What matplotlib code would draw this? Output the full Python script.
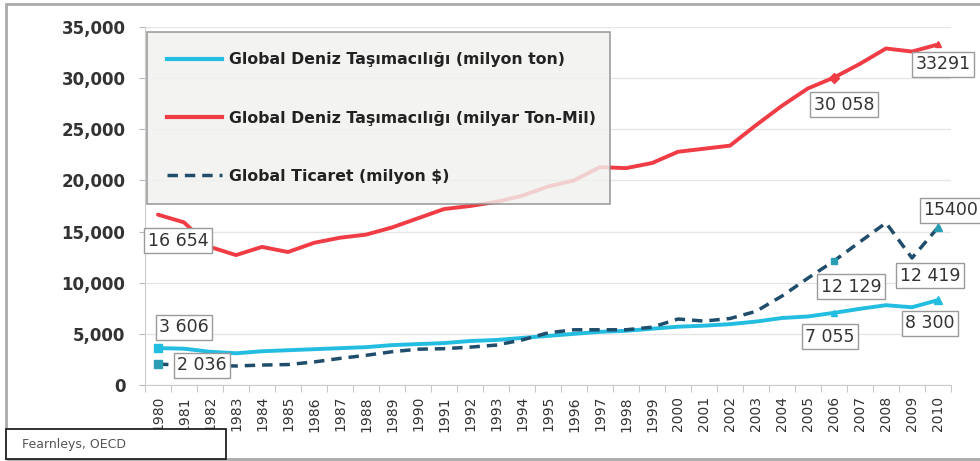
import matplotlib.pyplot as plt
from matplotlib.lines import Line2D
from matplotlib.patches import Rectangle
from matplotlib.ticker import FuncFormatter, MultipleLocator

# Veriler
years = list(range(1980, 2011))

ton_mil = [16654, 15900, 13500, 12700, 13500, 13000, 13900, 14400, 14700, 15400,
           16300, 17200, 17500, 17900, 18500, 19400, 20000, 21300, 21200, 21700,
           22800, 23100, 23400, 25400, 27300, 29000, 30058, 31400, 32900, 32600,
           33291]

milyon_ton = [3606, 3550, 3250, 3100, 3300, 3400, 3500, 3600, 3700, 3900,
              4000, 4100, 4300, 4400, 4600, 4800, 5000, 5200, 5300, 5500,
              5700, 5800, 5950, 6200, 6550, 6700, 7055, 7450, 7800, 7600,
              8300]

ticaret = [2036, 1950, 1900, 1860, 1950, 2000, 2250, 2600, 2900, 3250,
           3500, 3550, 3700, 3900, 4400, 5100, 5400, 5400, 5400, 5650,
           6450, 6250, 6500, 7200, 8700, 10450, 12129, 14000, 15850, 12419,
           15400]

labels = ["Global Deniz Taşımacılığı (milyon ton)",
          "Global Deniz Taşımacılığı (milyar Ton-Mil)",
          "Global Ticaret (milyon $)"]

# etiketlenen noktalar: (seri, yıl, metin)
point_labels = [
    ("red", 1980, "16 654"), ("cyan", 1980, "3 606"), ("dash", 1980, "2 036"),
    ("red", 2006, "30 058"), ("red", 2010, "33291"),
    ("dash", 2006, "12 129"), ("dash", 2009, "12 419"), ("dash", 2010, "15400"),
    ("cyan", 2006, "7 055"), ("cyan", 2010, "8 300"),
]
# kutu konumları (piksel ofset)
label_offsets = [(20, -26), (26, 21), (44, -1),
                 (10, -27), (5, -20),
                 (17, -26), (18, -18), (13, 17),
                 (-4, -24), (-8, -23)]

CYAN = "#22bde0"
RED = "#f03c44"
DASH = "#1f4d6b"
MARK = "#2a9db2"

series = {"red": ton_mil, "cyan": milyon_ton, "dash": ticaret}

fig = plt.figure(figsize=(9.8, 4.61), dpi=100)
ax = fig.add_axes([145 / 980, 1 - 385 / 461, 806 / 980, 358 / 461])

ax.plot(years, milyon_ton, color=CYAN, lw=2.8, zorder=3, solid_capstyle="round")
ax.plot(years, ton_mil, color=RED, lw=2.8, zorder=3, solid_capstyle="round")
ax.plot(years, ticaret, color=DASH, lw=2.5, ls=(0, (3, 2)), zorder=3)

# işaretler
ax.plot([1980], [milyon_ton[0]], marker="s", ms=6, color=CYAN, zorder=4)
ax.plot([1980], [ticaret[0]], marker="s", ms=6, color=MARK, zorder=4)
ax.plot([2006], [ticaret[26]], marker="s", ms=5, color=MARK, zorder=4)
ax.plot([2010], [ticaret[30]], marker="^", ms=6, color=MARK, zorder=4)
ax.plot([2006], [milyon_ton[26]], marker="^", ms=4, color=CYAN, zorder=4)
ax.plot([2010], [milyon_ton[30]], marker="^", ms=6, color=CYAN, zorder=4)
ax.plot([2006], [ton_mil[26]], marker="D", ms=5, color=RED, zorder=4)
ax.plot([2010], [ton_mil[30]], marker="^", ms=5, color=RED, zorder=4)

for (s, yr, txt), (dx, dy) in zip(point_labels, label_offsets):
    val = series[s][years.index(yr)]
    ax.annotate(txt, xy=(yr, val), xytext=(dx, dy), textcoords="offset pixels",
                ha="center", va="center", fontsize=12.5, color="#333333",
                bbox=dict(boxstyle="square,pad=0.2", fc="white", ec="#9a9a9a", lw=1),
                zorder=6, annotation_clip=False)

ax.set_xlim(1979.5, 2010.5)
ax.set_ylim(0, 35000)
ax.yaxis.set_major_locator(MultipleLocator(5000))
ax.yaxis.set_major_formatter(FuncFormatter(lambda v, p: f"{int(v):,}"))
ax.grid(axis="y", color="#e6e6e6", lw=1, zorder=0)

ax.set_xticks(years)
ax.set_xticklabels([str(y) for y in years], rotation=90, fontsize=10, color="#333333")
ax.set_xticks([y + 0.5 for y in range(1979, 2011)], minor=True)
ax.tick_params(axis="x", which="major", length=0, pad=8)
ax.tick_params(axis="x", which="minor", length=5, color="#bbbbbb")
ax.tick_params(axis="y", length=4, color="#bbbbbb", pad=10)
for t in ax.get_yticklabels():
    t.set_fontweight("bold")
    t.set_fontsize(12)
    t.set_color("#333333")

for sp in ["top", "right"]:
    ax.spines[sp].set_visible(False)
ax.spines["left"].set_color("#cccccc")
ax.spines["bottom"].set_color("#cccccc")

handles = [Line2D([], [], color=CYAN, lw=3),
           Line2D([], [], color=RED, lw=3),
           Line2D([], [], color=DASH, lw=2.5, ls=(0, (3, 2)))]
leg = ax.legend(handles, labels, loc="upper left",
                bbox_to_anchor=(2 / 806, 353 / 358, 463 / 806, 0), mode="expand",
                borderaxespad=0, fancybox=False, framealpha=0.82,
                facecolor="#f1f1ee", edgecolor="#8a8a8a",
                prop={"weight": "bold", "size": 11.3},
                handlelength=3.5, handletextpad=0.45, labelspacing=2.75,
                borderpad=1.3)
leg.get_frame().set_linewidth(1.2)
for t in leg.get_texts():
    t.set_color("#222222")

# dış çerçeve ve kaynak kutusu
fig.patches.append(Rectangle((6 / 980, 2 / 461), 1.0, 455 / 461, transform=fig.transFigure,
                             fill=False, ec="#aaaaaa", lw=2, zorder=0))
fig.patches.append(Rectangle((6 / 980, 2 / 461), 220 / 980, 30 / 461, transform=fig.transFigure,
                             fc="white", ec="#222222", lw=1.3, zorder=10))
fig.text(22 / 980, 1 - 444 / 461, "Fearnleys, OECD", fontsize=9, color="#555555",
         va="center", zorder=11)

fig.savefig("out.png", dpi=100)
